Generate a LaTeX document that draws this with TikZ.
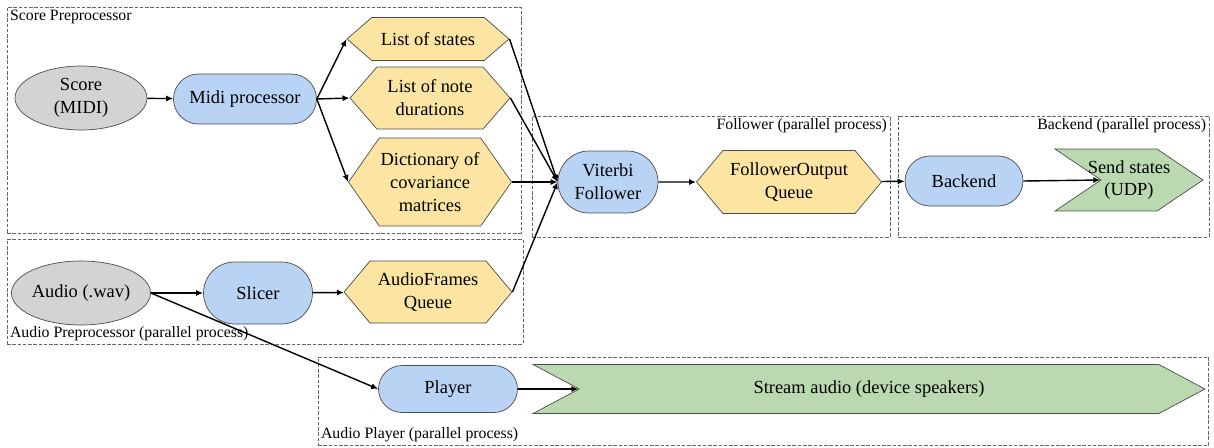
\documentclass[tikz,border=0pt]{standalone}
\usepackage{fontspec}
\setmainfont{Liberation Serif}
\usetikzlibrary{shapes,shapes.misc,shapes.symbols,positioning,arrows.meta,calc}

\definecolor{inputgray}{HTML}{D3D3D3}
\definecolor{procblue}{HTML}{B9D3F4}
\definecolor{queueyellow}{HTML}{FCE5A2}
\definecolor{outgreen}{HTML}{BAD9B0}

\begin{document}
\begin{tikzpicture}[
    x=0.02cm, y=-0.02cm,
    font=\fontsize{10.5}{13}\selectfont,
    >={Latex[length=4pt,width=3.5pt]},
    inputnode/.style={
        ellipse, draw=black!70, fill=inputgray, align=center, inner sep=0pt
      },
    procnode/.style={
        rounded rectangle, draw=black!70, fill=procblue, align=center, inner sep=0pt
      },
    queuenode/.style={
        signal, signal to=east and west, signal pointer angle=#1,
        draw=black!70, fill=queueyellow, align=center, inner sep=0pt
      },
    outnode/.style={
        signal, signal from=west, signal to=east, signal pointer angle=#1,
        draw=black!70, fill=outgreen, align=center, inner sep=0pt
      },
    groupbox/.style={
        rectangle, draw=black!60, dash pattern=on 2pt off 1pt, line width=0.5pt,
        inner sep=0pt, outer sep=0pt
      },
    grouplbl/.style={
        font=\fontsize{9}{11}\selectfont, inner sep=1.5pt
      },
    flow/.style={
        ->, line width=0.8pt
      },
  ]
  \useasboundingbox (0,0) rectangle (1214,447);

  % process boxes
  \node[groupbox, minimum width=10.28cm, minimum height=4.52cm] (scorebox) at (264,120) {};
  \node[groupbox, minimum width=10.32cm, minimum height=2.1cm] (audiobox) at (265,291.5) {};
  \node[groupbox, minimum width=7.16cm, minimum height=2.42cm] (follbox) at (711,176.5) {};
  \node[groupbox, minimum width=6.22cm, minimum height=2.42cm] (backbox) at (1053.5,176.5) {};
  \node[groupbox, minimum width=17.82cm, minimum height=1.76cm] (playbox) at (763.5,401) {};
  \node[grouplbl, anchor=north west] (scorelbl) at (scorebox.north west) {Score Preprocessor};
  \node[grouplbl, anchor=south west] (audiolbl) at (audiobox.south west) {Audio Preprocessor (parallel process)};
  \node[grouplbl, anchor=north east] (follbl) at (follbox.north east) {Follower (parallel process)};
  \node[grouplbl, anchor=north east] (backlbl) at (backbox.north east) {Backend (parallel process)};
  \node[grouplbl, anchor=south west] (playlbl) at (playbox.south west) {Audio Player (parallel process)};

  % score preprocessor
  \node[inputnode, minimum width=2.64cm, minimum height=1.28cm] (score) at (81,98) {Score\\(MIDI)};
  \node[procnode, minimum width=2.86cm, minimum height=1.0cm] (midi) at (245,99) {Midi processor};
  \node[queuenode=82, minimum width=3.24cm, minimum height=0.86cm] (states) at (428,39) {List of states};
  \node[queuenode=98, minimum width=3.2cm, minimum height=1.24cm] (durations) at (430,98) {List of note\\durations};
  \node[queuenode=110, minimum width=3.26cm, minimum height=1.76cm] (covar) at (430,182) {Dictionary of\\covariance\\matrices};

  % audio preprocessor
  \node[inputnode, minimum width=2.64cm, minimum height=1.28cm] (audio) at (81,293) {Audio (.wav)};
  \node[procnode, minimum width=2.18cm, minimum height=1.24cm] (slicer) at (258,293) {Slicer};
  \node[queuenode=100, minimum width=3.36cm, minimum height=1.24cm] (aqueue) at (428,292) {AudioFrames\\Queue};

  % follower and backend
  \node[procnode, minimum width=2.0cm, minimum height=1.24cm] (viterbi) at (608,182) {Viterbi\\Follower};
  \node[queuenode=100, minimum width=3.7cm, minimum height=1.26cm] (fqueue) at (789,182) {FollowerOutput\\Queue};
  \node[procnode, minimum width=2.36cm, minimum height=1.0cm] (backend) at (964,181) {Backend};
  \node[outnode=68, inner xsep=-14pt, minimum width=2.96cm, minimum height=1.24cm] (send) at (1129,180) {Send states\\(UDP)};

  % audio player
  \node[procnode, minimum width=2.78cm, minimum height=0.94cm] (player) at (448,389) {Player};
  \node[outnode=56, minimum width=13.44cm, minimum height=0.98cm] (stream) at (869,389) {Stream audio (device speakers)};

  \path[flow]
    (score) edge (midi)
    (midi.east) edge (states.west)
    (midi.east) edge (durations.west)
    (midi.east) edge (covar.west)
    (states.east) edge (viterbi.west)
    (durations.east) edge (viterbi.west)
    (covar.east) edge (viterbi.west)
    (aqueue.east) edge (viterbi.west)
    (viterbi) edge (fqueue)
    (fqueue) edge (backend)
    (backend.east) edge (send.west)
    (audio) edge (slicer)
    (slicer) edge (aqueue)
    (audio.east) edge (player.west)
    (player.east) edge (stream.west)
  ;
\end{tikzpicture}
\end{document}
